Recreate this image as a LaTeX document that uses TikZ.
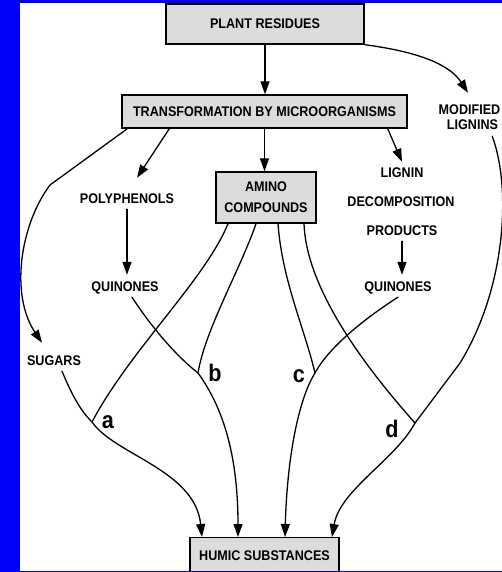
\documentclass[tikz,border=0pt]{standalone}
\usepackage{fontspec}
\newfontfamily\labfont[FakeStretch=0.9]{Liberation Sans}
\usetikzlibrary{arrows.meta}
\definecolor{boxgray}{RGB}{220,220,220}
\definecolor{edgeblue}{RGB}{0,0,250}
\tikzset{
  boxnode/.style={draw=black, line width=1.4pt, fill=boxgray, font=\labfont\bfseries\fontsize{14}{21}\selectfont, align=center, inner sep=0pt},
  txt/.style={font=\labfont\bfseries\fontsize{14}{16}\selectfont, text height=10pt, text depth=0pt, inner xsep=2pt, inner ysep=6pt},
  letter/.style={font=\labfont\bfseries\fontsize{24}{24}\selectfont, inner sep=0pt},
  conn/.style={line width=1.3pt, line cap=round, line join=round},
  arr/.style={conn, -{Triangle[length=13pt,width=9pt]}},
}
\begin{document}
\begin{tikzpicture}[x=1pt,y=-1pt]
\useasboundingbox (0,0) rectangle (502,572);
\clip (0,0) rectangle (502,572);
% boxes
\node[boxnode, minimum width=198pt, minimum height=40pt] (pr) at (265,24) {PLANT RESIDUES};
\node[boxnode, minimum width=285pt, minimum height=33pt] (tr) at (264.5,111.5) {TRANSFORMATION BY MICROORGANISMS};
\node[boxnode, minimum width=100pt, minimum height=51pt] (amino) at (266,197.5) {AMINO\\COMPOUNDS};
\node[boxnode, anchor=north, minimum width=149pt, minimum height=36pt] (humic) at (264.5,537) {HUMIC SUBSTANCES};
% texts
\node[txt] (modif) at (469.5,109.5) {MODIFIED};
\node[txt] (lignins) at (472.5,125) {LIGNINS};
\node[txt] (polyph) at (127,198) {POLYPHENOLS};
\node[txt] (quinL) at (125,286) {QUINONES};
\node[txt] (sugars) at (54,360) {SUGARS};
\node[txt] (lignin) at (402,173) {LIGNIN};
\node[txt] (decomp) at (401,201) {DECOMPOSITION};
\node[txt] (products) at (402,230) {PRODUCTS};
\node[txt] (quinR) at (398,286) {QUINONES};
% letters
\node[letter] (la) at (108,422) {a};
\node[letter] (lb) at (215,373) {b};
\node[letter] (lc) at (299,376) {c};
\node[letter] (ld) at (392,429) {d};
% junctions
\coordinate (ja) at (92,422);
\coordinate (jb) at (198,373);
\coordinate (jc) at (315,373);
\coordinate (jd) at (415,423);
\coordinate (sbend) at (50,185);
\coordinate (rbend) at (460,363);
% connectors
\draw[arr] (pr.south) -- (pr.south |- tr.north);
\draw[arr] (tr.south) -- (tr.south |- amino.north);
\draw[arr] (pr.south east) .. controls (420,52) and (450,65) .. ([xshift=-1.5pt,yshift=5.5pt]modif.north);
\draw[arr] ([xshift=-20pt]tr.south east) -- (lignin.north);
\draw[arr] ([xshift=48pt]tr.south west) -- ([xshift=10pt,yshift=9pt]polyph.north);
\draw[arr] ([xshift=6pt]tr.south west) -- (sbend) .. controls (20,225) and (10,295) .. ([xshift=-12pt,yshift=6pt]sugars.north);
\draw[arr] (polyph.south) -- (polyph.south |- quinL.north);
\draw[arr] (products.south) -- (products.south |- quinR.north);
\draw[conn] ([xshift=-8pt]lignins.south east) .. controls (512,190) and (505,290) .. (rbend) -- (jd);
\draw[arr] (jd) .. controls (395,460) and (340,490) .. ([xshift=67.5pt]humic.north);
\draw[conn] ([xshift=8pt]sugars.south) .. controls (72,395) and (80,410) .. (ja);
\draw[arr] (ja) .. controls (115,455) and (195,470) .. ([xshift=-62.5pt]humic.north);
\draw[conn] ([xshift=-38pt]amino.south) .. controls (205,280) and (130,350) .. (ja);
\draw[conn] ([xshift=-10pt]amino.south) .. controls (240,270) and (205,330) .. (jb);
\draw[conn] ([xshift=12pt]amino.south) .. controls (282,280) and (305,330) .. (jc);
\draw[conn] ([xshift=38pt]amino.south) .. controls (306,280) and (350,350) .. (jd);
\draw[conn] ([xshift=7pt]quinL.south) .. controls (150,325) and (175,355) .. (jb);
\draw[conn] (quinR.south) .. controls (370,315) and (330,345) .. (jc);
\draw[arr] (jb) .. controls (225,410) and (238,460) .. ([xshift=-26.5pt]humic.north);
\draw[arr] (jc) .. controls (298,400) and (287,460) .. ([xshift=20.5pt]humic.north);
% blue frame
\fill[edgeblue] (0,0) rectangle (20,572);
\fill[edgeblue] (0,0) rectangle (502,3);
\fill[edgeblue] (0,570.5) rectangle (502,572);
\end{tikzpicture}
\end{document}
